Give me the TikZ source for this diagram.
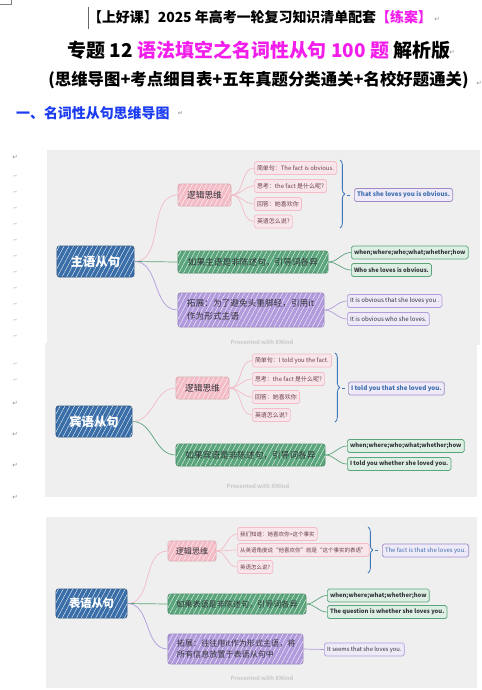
\documentclass[tikz,border=0pt]{standalone}
\usepackage{fontspec}
\setmainfont{Noto Sans CJK SC}
\newfontfamily\markfont{DejaVu Sans}
\usetikzlibrary{patterns.meta,decorations.pathreplacing}
\definecolor{rootblue}{HTML}{3A6EA8}
\definecolor{logicpink}{HTML}{F3BCC7}
\definecolor{branchgreen}{HTML}{5AA57C}
\definecolor{branchpurple}{HTML}{B29BDD}
\definecolor{leafpink}{HTML}{F9E6EA}
\definecolor{leafgreen}{HTML}{DDEEE3}
\definecolor{leafpurple}{HTML}{EFEAF8}
\definecolor{answerblue}{HTML}{3C6EAE}
\definecolor{bracecolor}{HTML}{3D76B9}
\definecolor{panelgray}{HTML}{EFEFEF}
\definecolor{hotpink}{HTML}{F21DEB}
\definecolor{headblue}{HTML}{1B3CF0}
\definecolor{textdark}{HTML}{33333A}
\definecolor{pinktext}{HTML}{6A4048}

\begin{document}
\begin{tikzpicture}[x=0.03cm, y=-0.03cm,
        every node/.style={font=\fontsize{5.1}{5.8}\selectfont},
        hatch/.style={postaction={pattern={Lines[angle=62,distance=3.6pt,line width=0.3pt]}, pattern color=white, fill opacity=0.25}},
        topic/.style={rounded corners=2pt, line width=0.6pt, inner sep=0pt, align=center},
        rootbox/.style={topic, hatch, fill=rootblue, draw=rootblue!80!black, text=white, font=\fontsize{10.5}{12}\selectfont\bfseries},
        logicbox/.style={topic, hatch, fill=logicpink, draw=logicpink!90!black, text=textdark, font=\fontsize{7.4}{9}\selectfont, minimum width=1.59cm, minimum height=0.66cm},
        greenbox/.style={topic, hatch, fill=branchgreen, draw=branchgreen!85!black, text=textdark, font=\fontsize{7.4}{9}\selectfont, minimum height=0.66cm},
        purplebox/.style={topic, hatch, fill=branchpurple, draw=branchpurple!85!black, text=textdark, font=\fontsize{7.4}{11}\selectfont, align=left, inner xsep=0.27cm},
        leaf/.style={rounded corners=1.5pt, line width=0.6pt, anchor=west, inner xsep=0.08cm, inner ysep=0pt, minimum height=0.39cm},
        pinkleaf/.style={leaf, fill=leafpink, draw=logicpink, text=pinktext},
        greenleaf/.style={leaf, fill=leafgreen, draw=branchgreen, text=textdark, font=\fontsize{5}{5.6}\selectfont\bfseries},
        purpleleaf/.style={leaf, fill=leafpurple, draw=branchpurple, text=textdark, font=\fontsize{5.2}{5.8}\selectfont},
        answer/.style={leaf, fill=leafpurple, draw=branchpurple!90!black, text=answerblue, font=\fontsize{5.3}{5.8}\selectfont\bfseries},
        pinkline/.style={draw=logicpink, line width=0.6pt},
        greenline/.style={draw=branchgreen, line width=0.6pt},
        purpleline/.style={draw=branchpurple, line width=0.6pt},
        curlybrace/.style={draw=bracecolor, line width=0.7pt, decorate, decoration={brace, amplitude=4pt}},
        braceline/.style={draw=bracecolor, line width=0.7pt},
        credit/.style={text=black!20, font=\fontsize{4.8}{5.6}\selectfont\bfseries},
        retmark/.style={text=black!45, font=\markfont\fontsize{5.5}{6}\selectfont},
        tinymark/.style={text=black!35, font=\markfont\fontsize{3.5}{4}\selectfont}]
                \useasboundingbox (0,0) rectangle (482,690);

                \draw[black!50, line width=0.4pt] (0,4) -- (11,4) -- (11,0);
                \draw[black!60, line width=0.5pt] (88,7) -- (88,29);

                \node[font=\fontsize{11.9}{14}\selectfont\bfseries] (head) at (260,17) {【上好课】2025 年高考一轮复习知识清单配套\textcolor{hotpink}{【练案】}};
                \node[font=\fontsize{16.2}{19}\selectfont\bfseries] (topic) at (259,50) {专题 12 \textcolor{hotpink}{语法填空之名词性从句 100 题} 解析版};
                \node[font=\fontsize{14}{17}\selectfont\bfseries] (series) at (258.5,80) {(思维导图+考点细目表+五年真题分类通关+名校好题通关)};
                \node[anchor=west, text=headblue, font=\fontsize{11.9}{14}\selectfont\bfseries] (section) at (12,113) {一、名词性从句思维导图};
                \node[retmark] at (437,19) {↵};
                \node[retmark] at (452,52) {↵};
                \node[retmark] at (479,83) {↵};
                \node[retmark, anchor=west] at (section.east) {↵};

                \foreach \y in {157,403,434,465,497} \node[retmark] at (15,\y) {↵};
                \foreach \y in {176,192,...,336,364,380} \node[tinymark] at (15,\y) {.↵};

                \fill[panelgray] (47,150) rectangle (480,345);
                \fill[panelgray] (45,343) rectangle (477,497);
                \fill[panelgray] (46,517) rectangle (477,688);

                \node[rootbox, minimum width=2.31cm, minimum height=0.93cm] (subj) at (95.5,261.5) {主语从句};
                \node[logicbox] (subjlogic) at (204.5,195) {逻辑思维};
                \node[greenbox, minimum width=4.5cm] (subjwhy) at (253,262) {如果主语是非陈述句，引导词各异};
                \node[purplebox, text width=3.84cm, minimum height=1.02cm] (subjit) at (251,310) {拓展：为了避免头重脚轻，引用it\\作为形式主语};
                \node[pinkleaf] (subja) at (254,168) {简单句：The fact is obvious.};
                \node[pinkleaf] (subjb) at (254,186) {思考：the fact 是什么呢?};
                \node[pinkleaf] (subjc) at (254,204) {回答：她喜欢你};
                \node[pinkleaf] (subjd) at (254,221.5) {英语怎么说?};
                \coordinate (subjtop) at (340,160);
                \coordinate (subjbot) at (340,228);
                \coordinate (subjtip) at (347,195);
                \coordinate (subjtick) at (350,195);
                \node[answer] (subjans) at (354,195) {That she loves you is obvious.};
                \node[greenleaf] (subjw) at (351,252.5) {when;where;who;what;whether;how};
                \node[greenleaf] (subjx) at (351,270) {Who she loves is obvious.};
                \node[purpleleaf] (subjy) at (347,301) {It is obvious that she loves you .};
                \node[purpleleaf] (subjz) at (347,319) {It is obvious who she loves.};
                \node[credit] (subjmark) at (262,342) {Presented with XMind};

                \draw[pinkline] (subj.east) to[out=0, in=180] (subjlogic.west);
                \draw[greenline] (subj.east) -- (subjwhy.west);
                \draw[purpleline] (subj.east) to[out=0, in=180] (subjit.west);
                \draw[pinkline] (subjlogic.east) to[out=0, in=180] (subja.west);
                \draw[pinkline] (subjlogic.east) to[out=0, in=180] (subjb.west);
                \draw[pinkline] (subjlogic.east) to[out=0, in=180] (subjc.west);
                \draw[pinkline] (subjlogic.east) to[out=0, in=180] (subjd.west);
                \draw[curlybrace] (subjtop) -- (subjbot);
                \draw[braceline] (subjtip) -- (subjtick);
                \draw[greenline] (subjwhy.east) to[out=0, in=180] (subjw.west);
                \draw[greenline] (subjwhy.east) to[out=0, in=180] (subjx.west);
                \draw[purpleline] (subjit.east) to[out=0, in=180] (subjy.west);
                \draw[purpleline] (subjit.east) to[out=0, in=180] (subjz.west);

                \node[rootbox, minimum width=2.28cm, minimum height=0.93cm] (obj) at (94,421.5) {宾语从句};
                \node[logicbox] (objlogic) at (202.5,388) {逻辑思维};
                \node[greenbox, minimum width=4.47cm] (objwhy) at (250.5,455) {如果宾语是非陈述句，引导词各异};
                \node[pinkleaf] (obja) at (252,360.5) {简单句：I told you the fact.};
                \node[pinkleaf] (objb) at (252,379) {思考：the fact 是什么呢?};
                \node[pinkleaf] (objc) at (252,397) {回答：她喜欢你};
                \node[pinkleaf] (objd) at (252,415) {英语怎么说?};
                \coordinate (objtop) at (335,353);
                \coordinate (objbot) at (335,422);
                \coordinate (objtip) at (342,388);
                \coordinate (objtick) at (345,388);
                \node[answer] (objans) at (348,388.5) {I told you that she loved you.};
                \node[greenleaf] (objw) at (347,446) {when;where;who;what;whether;how};
                \node[greenleaf] (objx) at (347,464) {I told you whether she loved you.};
                \node[credit] (objmark) at (258,486) {Presented with XMind};

                \draw[pinkline] (obj.east) to[out=0, in=180] (objlogic.west);
                \draw[greenline] (obj.east) to[out=0, in=180] (objwhy.west);
                \draw[pinkline] (objlogic.east) to[out=0, in=180] (obja.west);
                \draw[pinkline] (objlogic.east) to[out=0, in=180] (objb.west);
                \draw[pinkline] (objlogic.east) to[out=0, in=180] (objc.west);
                \draw[pinkline] (objlogic.east) to[out=0, in=180] (objd.west);
                \draw[curlybrace] (objtop) -- (objbot);
                \draw[braceline] (objtip) -- (objtick);
                \draw[greenline] (objwhy.east) to[out=0, in=180] (objw.west);
                \draw[greenline] (objwhy.east) to[out=0, in=180] (objx.west);

                \node[rootbox, minimum width=2.13cm, minimum height=0.87cm, font=\fontsize{9.6}{11}\selectfont\bfseries] (pred) at (91.5,603.5) {表语从句};
                \node[logicbox, minimum width=1.44cm, minimum height=0.6cm, font=\fontsize{6.9}{8}\selectfont] (predlogic) at (192,551) {逻辑思维};
                \node[greenbox, minimum width=4.14cm, minimum height=0.6cm, font=\fontsize{6.9}{8}\selectfont] (predwhy) at (237,604) {如果表语是非陈述句，引导词各异};
                \node[purplebox, text width=3.51cm, minimum height=0.9cm, font=\fontsize{6.9}{10}\selectfont] (predit) at (235.5,649) {拓展：往往用it作为形式主语，将\\所有信息放置于表语从句中};
                \node[pinkleaf, font=\fontsize{4.7}{5.4}\selectfont] (preda) at (237,534) {我们知道：她喜欢你=这个事实};
                \node[pinkleaf, font=\fontsize{4.7}{5.4}\selectfont] (predb) at (237,550) {从英语角度说“他喜欢你”就是“这个事实的表语”};
                \node[pinkleaf, font=\fontsize{4.7}{5.4}\selectfont] (predc) at (237,567) {英语怎么说?};
                \coordinate (predtop) at (368,527);
                \coordinate (predbot) at (368,573);
                \coordinate (predtip) at (375,550);
                \coordinate (predtick) at (378,550);
                \node[answer, font=\fontsize{5.1}{5.8}\selectfont] (predans) at (382,550.5) {The fact is that she loves you.};
                \node[greenleaf] (predw) at (327,595.5) {when;where;what;whether;how};
                \node[greenleaf] (predx) at (327,612) {The question is whether she loves you.};
                \node[purpleleaf, font=\fontsize{5}{5.6}\selectfont] (predy) at (324,649.5) {It seems that she loves you.};
                \node[credit] (predmark) at (262,678) {Presented with XMind};

                \draw[pinkline] (pred.east) to[out=0, in=180] (predlogic.west);
                \draw[greenline] (pred.east) -- (predwhy.west);
                \draw[purpleline] (pred.east) to[out=0, in=180] (predit.west);
                \draw[pinkline] (predlogic.east) to[out=0, in=180] (preda.west);
                \draw[pinkline] (predlogic.east) to[out=0, in=180] (predb.west);
                \draw[pinkline] (predlogic.east) to[out=0, in=180] (predc.west);
                \draw[curlybrace] (predtop) -- (predbot);
                \draw[braceline] (predtip) -- (predtick);
                \draw[greenline] (predwhy.east) to[out=0, in=180] (predw.west);
                \draw[greenline] (predwhy.east) to[out=0, in=180] (predx.west);
                \draw[purpleline] (predit.east) -- (predy.west);
            \end{tikzpicture}
\end{document}
